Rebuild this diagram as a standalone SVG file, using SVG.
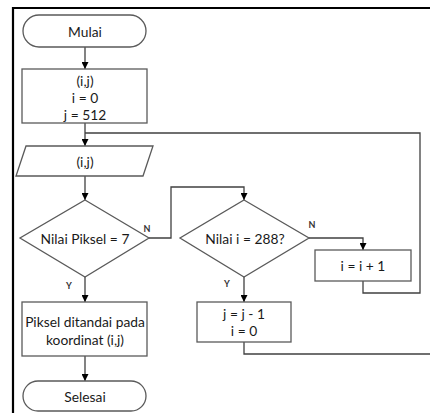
<svg xmlns="http://www.w3.org/2000/svg" width="430" height="413" viewBox="0 0 430 413">
  <style>
    .shape { fill: #ffffff; stroke: #5a5a5a; stroke-width: 1.3; }
    .line { fill: none; stroke: #404040; stroke-width: 1.3; }
    .frame { fill: none; stroke: #000000; stroke-width: 2.2; }
    text { font-family: Lato, "Open Sans", "Liberation Sans", sans-serif; font-size: 13.8px; fill: #1a1a1a; text-anchor: middle; dominant-baseline: central; }
    .lbl { font-size: 9px; font-weight: bold; fill: #333333; }
  </style>
  <defs>
    <marker id="arrow" viewBox="0 0 10 10" refX="10" refY="5" markerWidth="7" markerHeight="7" markerUnits="userSpaceOnUse" orient="auto">
      <path d="M0,0 L10,5 L0,10 Z" fill="#000000"/>
    </marker>
  </defs>

  <rect x="0" y="0" width="430" height="413" fill="#ffffff"/>
  <!-- outer frame (top and left edges) -->
  <path class="frame" d="M13,413 V8 H430"/>

  <g id="connectors">
    <path class="line" d="M85,47 V69" marker-end="url(#arrow)"/>
    <path class="line" d="M85,123 V146" marker-end="url(#arrow)"/>
    <path class="line" d="M85,176 V200" marker-end="url(#arrow)"/>
    <path class="line" d="M85,277 V302" marker-end="url(#arrow)"/>
    <path class="line" d="M85,356 V381" marker-end="url(#arrow)"/>
    <!-- N branch of first decision -->
    <path class="line" d="M149,238 H171 V187 H244 V200" marker-end="url(#arrow)"/>
    <!-- N branch of second decision -->
    <path class="line" d="M309,238 H363 V250" marker-end="url(#arrow)"/>
    <!-- Y branch of second decision -->
    <path class="line" d="M244,277 V302" marker-end="url(#arrow)"/>
    <!-- loop back from i = i + 1 -->
    <path class="line" d="M363,281 V293 H420 V133 H85"/>
    <!-- exit from j = j - 1 -->
    <path class="line" d="M244,342 V354 H430"/>
    <text class="lbl" x="147" y="228">N</text>
    <text class="lbl" x="69" y="285">Y</text>
    <text class="lbl" x="312" y="224">N</text>
    <text class="lbl" x="227" y="283">Y</text>
  </g>

  <g id="start">
    <rect class="shape" x="23" y="15" width="123" height="32" rx="16" ry="16"/>
    <text x="85" y="31">Mulai</text>
  </g>

  <g id="init">
    <rect class="shape" x="22" y="69" width="125" height="54"/>
    <text x="85" y="80">(i,j)</text>
    <text x="85" y="97">i = 0</text>
    <text x="85" y="114">j = 512</text>
  </g>

  <g id="input">
    <polygon class="shape" points="26,146 153,146 143,176 16,176"/>
    <text x="85" y="161">(i,j)</text>
  </g>

  <g id="check-pixel">
    <polygon class="shape" points="85,200 149,238 85,277 20,238"/>
    <text x="85" y="238">Nilai Piksel = 7</text>
  </g>

  <g id="mark">
    <rect class="shape" x="22" y="302" width="125" height="54"/>
    <text x="85" y="321">Piksel ditandai pada</text>
    <text x="85" y="339">koordinat (i,j)</text>
  </g>

  <g id="end">
    <rect class="shape" x="23" y="381" width="123" height="30" rx="15" ry="15"/>
    <text x="85" y="396">Selesai</text>
  </g>

  <g id="check-i">
    <polygon class="shape" points="244,200 309,238 244,277 180,238"/>
    <text x="245" y="238">Nilai i = 288?</text>
  </g>

  <g id="increment-i">
    <rect class="shape" x="315" y="250" width="96" height="31"/>
    <text x="363" y="265">i = i + 1</text>
  </g>

  <g id="next-row">
    <rect class="shape" x="197" y="302" width="94" height="40"/>
    <text x="244" y="313">j = j - 1</text>
    <text x="244" y="330">i = 0</text>
  </g>
</svg>
